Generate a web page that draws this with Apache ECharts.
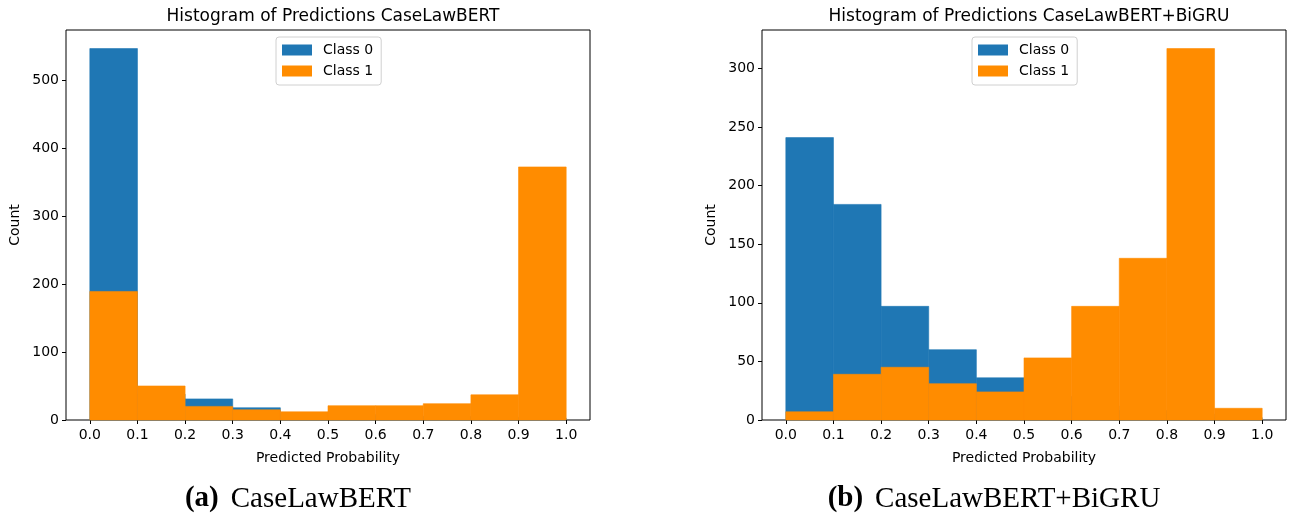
<!DOCTYPE html>
<html>
<head>
<meta charset="utf-8">
<script src="https://cdn.jsdelivr.net/npm/echarts@6/dist/echarts.min.js"></script>
<style>
  html, body { margin: 0; padding: 0; background: #fff; }
  #chartsDiv { width: 1300px; height: 519px; }
</style>
</head>
<body>
<div id="chartsDiv"></div>
<script>
// bin edges shared by both histograms
const binEdges = [0.0, 0.1, 0.2, 0.3, 0.4, 0.5, 0.6, 0.7, 0.8, 0.9, 1.0];
const tickValues = [0.0, 0.1, 0.2, 0.3, 0.4, 0.5, 0.6, 0.7, 0.8, 0.9, 1.0];
// CaseLawBERT
const bertClass0 = [546, 38, 31, 18, 9, 8, 6, 5, 4, 3];
const bertClass1 = [189, 50, 20, 15, 12, 21, 21, 24, 37, 372];
const bertYTicks = [0, 100, 200, 300, 400, 500];
// CaseLawBERT+BiGRU
const gruClass0 = [241, 184, 97, 60, 36, 20, 12, 8, 5, 2];
const gruClass1 = [7, 39, 45, 31, 24, 53, 97, 138, 317, 10];
const gruYTicks = [0, 50, 100, 150, 200, 250, 300];

const blue = "#1f77b4";
const orange = "#ff8c00";
const font = "DejaVu Sans";

function toBins(counts) {
  return counts.map((c, i) => [binEdges[i], binEdges[i + 1], c]);
}

function renderBin(params, api) {
  const p0 = api.coord([api.value(0), api.value(2)]);
  const p1 = api.coord([api.value(1), 0]);
  const st = api.style();
  st.stroke = st.fill;
  st.lineWidth = 0.6;
  return {
    type: "rect",
    shape: { x: p0[0], y: p0[1], width: p1[0] - p0[0], height: p1[1] - p0[1] },
    style: st,
  };
}

function histSeries(name, color, counts, idx, z) {
  return {
    name: name,
    type: "custom",
    xAxisIndex: idx,
    yAxisIndex: idx,
    renderItem: renderBin,
    itemStyle: { color: color },
    encode: { x: [0, 1], y: 2 },
    data: toBins(counts),
    z: z,
    silent: true,
  };
}

function xAxisOf(idx) {
  return {
    type: "value",
    gridIndex: idx,
    min: -0.05,
    max: 1.05,
    splitLine: { show: false },
    axisLine: { show: false, onZero: false },
    axisTick: { show: true, length: 4, customValues: tickValues, lineStyle: { color: "#000" } },
    axisLabel: {
      customValues: tickValues,
      formatter: (v) => v.toFixed(1),
      color: "#000",
      fontFamily: font,
      fontSize: 14,
      margin: 8,
    },
    name: "Predicted Probability",
    nameLocation: "middle",
    nameGap: 31,
    nameTextStyle: { color: "#000", fontFamily: font, fontSize: 14 },
  };
}

function yAxisOf(idx, ticks, c0, c1) {
  return {
    type: "value",
    gridIndex: idx,
    min: 0,
    max: Math.max(...c0, ...c1) * 1.05,
    splitLine: { show: false },
    axisLine: { show: false, onZero: false },
    axisTick: { show: true, length: 4, customValues: ticks, lineStyle: { color: "#000" } },
    axisLabel: {
      customValues: ticks,
      color: "#000",
      fontFamily: font,
      fontSize: 14,
      margin: 7,
    },
    name: "Count",
    nameLocation: "middle",
    nameGap: 44,
    nameTextStyle: { color: "#000", fontFamily: font, fontSize: 14 },
  };
}

function legendOf(left) {
  return {
    data: ["Class 0", "Class 1"],
    orient: "vertical",
    left: left,
    top: 37,
    icon: "rect",
    itemWidth: 30,
    itemHeight: 11,
    itemGap: 7,
    padding: [6, 8, 7, 6],
    borderColor: "#d0d0d0",
    borderWidth: 1,
    borderRadius: 3,
    selectedMode: false,
    textStyle: { color: "#000", fontFamily: font, fontSize: 14, padding: [0, 0, 0, 6] },
  };
}

function caption(x, tag, label) {
  return {
    type: "text", x: x, y: 499,
    style: {
      text: "{b|" + tag + "}{n|" + label + "}",
      align: "center", verticalAlign: "middle",
      rich: {
        b: { fontFamily: "Liberation Serif", fontWeight: "bold", fontSize: 29, fill: "#000" },
        n: { fontFamily: "Liberation Serif", fontSize: 29, fill: "#000", padding: [0, 0, 0, 12] },
      },
    },
  };
}

const option = {
  animation: false,
  backgroundColor: "#fff",
  title: [
    {
      text: "Histogram of Predictions CaseLawBERT",
      left: 328, top: 3, textAlign: "center",
      textStyle: { color: "#000", fontFamily: font, fontSize: 17, fontWeight: "normal" },
    },
    {
      text: "Histogram of Predictions CaseLawBERT+BiGRU",
      left: 1024, top: 3, textAlign: "center",
      textStyle: { color: "#000", fontFamily: font, fontSize: 17, fontWeight: "normal" },
    },
  ],
  legend: [legendOf(276), legendOf(972)],
  grid: [
    { left: 66, right: 710, top: 30, bottom: 99, show: true, borderColor: "#000", borderWidth: 1, containLabel: false },
    { left: 762, right: 14, top: 30, bottom: 99, show: true, borderColor: "#000", borderWidth: 1, containLabel: false },
  ],
  xAxis: [xAxisOf(0), xAxisOf(1)],
  yAxis: [yAxisOf(0, bertYTicks, bertClass0, bertClass1), yAxisOf(1, gruYTicks, gruClass0, gruClass1)],
  series: [
    histSeries("Class 0", blue, bertClass0, 0, 2),
    histSeries("Class 1", orange, bertClass1, 0, 3),
    histSeries("Class 0", blue, gruClass0, 1, 2),
    histSeries("Class 1", orange, gruClass1, 1, 3),
  ],
  graphic: [
    caption(298, "(a)", "CaseLawBERT"),
    caption(994, "(b)", "CaseLawBERT+BiGRU"),
  ],
};

const chart = echarts.init(document.getElementById("chartsDiv"));
chart.setOption(option);
</script>
</body>
</html>
